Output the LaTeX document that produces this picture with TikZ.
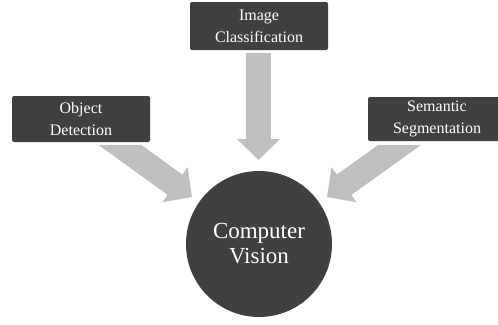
\documentclass[tikz,border=0pt]{standalone}
\usepackage{fontspec}
\setmainfont{Liberation Serif}
\usetikzlibrary{arrows.meta,calc}
\definecolor{boxgray}{HTML}{404040}
\definecolor{arrowgray}{HTML}{BFBFBF}
\begin{document}
\begin{tikzpicture}[x=1pt,y=-1pt,
  topic/.style={fill=boxgray, rounded corners=2pt, text=white, align=center,
    minimum width=138pt, inner sep=0pt,
    font=\fontsize{16pt}{22pt}\selectfont},
  fatarrow/.style={draw=arrowgray, line width=25pt,
    -{Triangle[length=21pt, width=42pt]}}]
\clip (0,0) rectangle (498,324);
\useasboundingbox (0,0) rectangle (498,324);

% central topic
\node[circle, fill=boxgray, minimum size=146pt, inner sep=0pt, text=white,
  align=center, font=\fontsize{23pt}{25pt}\selectfont] (cv) at (259,244)
  {Computer\\Vision};

% the three tasks
\node[topic, minimum height=48pt] (ic) at (259,26) {Image\\Classification};
\node[topic, minimum height=46pt] (od) at (81,119) {Object\\Detection};
\node[topic, minimum height=44pt] (ss) at (437,119) {Semantic\\Segmentation};

% block arrows into the centre
\coordinate (icTip) at (258.5,160);
\coordinate (odTip) at (192,197);
\coordinate (ssTip) at (327,197);
\draw[fatarrow] (ic.south -| icTip) ++(0,3) -- (icTip);
\begin{scope}
  \clip (0,145) rectangle (498,324);
  \draw[fatarrow] ($(odTip)!1.35!(120,145)$) -- (odTip);
  \draw[fatarrow] ($(ssTip)!1.35!(401,144)$) -- (ssTip);
\end{scope}
\end{tikzpicture}
\end{document}
